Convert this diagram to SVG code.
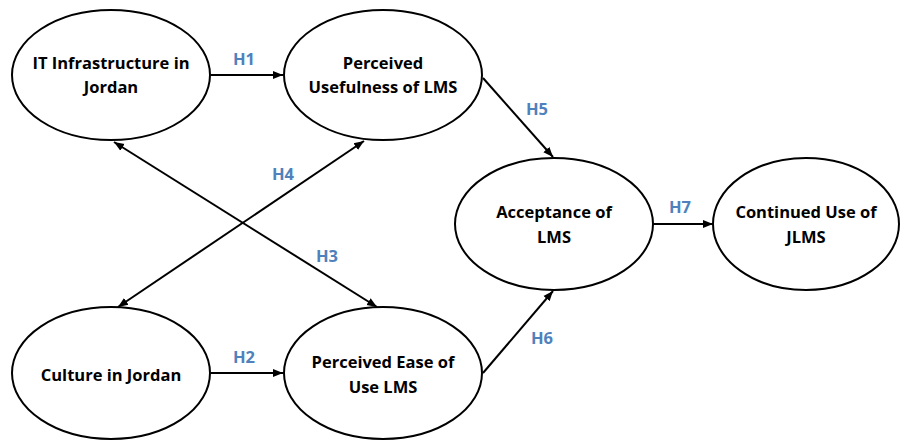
<svg xmlns="http://www.w3.org/2000/svg" width="902" height="442" viewBox="0 0 902 442">
<defs>
<marker id="ah" viewBox="0 0 10 10" refX="10" refY="5" markerWidth="10" markerHeight="10" markerUnits="userSpaceOnUse" orient="auto-start-reverse">
<path d="M0,1 L10,5 L0,9 Z" fill="#000"/>
</marker>
<style>
.n ellipse{fill:#fff;stroke:#000;stroke-width:2}
.n text{font-family:"Open Sans","Liberation Sans",sans-serif;font-weight:700;font-size:16.5px;fill:#000;text-anchor:middle}
.c line{stroke:#000;stroke-width:2}
.h{font-family:"Open Sans","Liberation Sans",sans-serif;font-weight:700;font-size:16.5px;fill:#4f81bd;text-anchor:middle}
</style>
</defs>
<rect width="902" height="442" fill="#fff"/>
<g class="c" id="connectors">
<line x1="211" y1="75" x2="283" y2="75" marker-end="url(#ah)"/>
<line x1="211" y1="373" x2="283" y2="373" marker-end="url(#ah)"/>
<line x1="653" y1="224" x2="713" y2="224" marker-end="url(#ah)"/>
<line x1="483" y1="78" x2="553" y2="157" marker-end="url(#ah)"/>
<line x1="483" y1="373" x2="553" y2="291" marker-end="url(#ah)"/>
<line x1="114" y1="142" x2="377" y2="307" marker-start="url(#ah)" marker-end="url(#ah)"/>
<line x1="118" y1="307" x2="364" y2="141" marker-start="url(#ah)" marker-end="url(#ah)"/>
<text class="h" x="244" y="65">H1</text>
<text class="h" x="244" y="363">H2</text>
<text class="h" x="327" y="262">H3</text>
<text class="h" x="283" y="180">H4</text>
<text class="h" x="537" y="115">H5</text>
<text class="h" x="542" y="344">H6</text>
<text class="h" x="680" y="213">H7</text>
</g>
<g class="n" id="it">
<ellipse cx="111" cy="75" rx="99" ry="65"/>
<text x="111" y="69">IT Infrastructure in</text>
<text x="111" y="93">Jordan</text>
</g>
<g class="n" id="pu">
<ellipse cx="383" cy="75" rx="99" ry="65"/>
<text x="383" y="69">Perceived</text>
<text x="383" y="93">Usefulness of LMS</text>
</g>
<g class="n" id="culture">
<ellipse cx="111" cy="373" rx="99" ry="66"/>
<text x="111" y="381">Culture in Jordan</text>
</g>
<g class="n" id="peou">
<ellipse cx="383" cy="373" rx="99" ry="66"/>
<text x="383" y="368">Perceived Ease of</text>
<text x="383" y="393">Use LMS</text>
</g>
<g class="n" id="accept">
<ellipse cx="554" cy="224" rx="99" ry="66"/>
<text x="554" y="218">Acceptance of</text>
<text x="554" y="243">LMS</text>
</g>
<g class="n" id="cont">
<ellipse cx="806" cy="224" rx="93" ry="66"/>
<text x="806" y="218">Continued Use of</text>
<text x="806" y="243">JLMS</text>
</g>
</svg>
